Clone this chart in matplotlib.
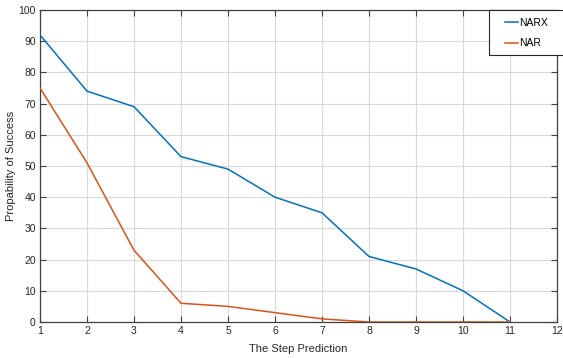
import matplotlib
matplotlib.use("Agg")
import matplotlib.pyplot as plt
from matplotlib.patches import Rectangle

steps = [1, 2, 3, 4, 5, 6, 7, 8, 9, 10, 11]
narx = [92, 74, 69, 53, 49, 40, 35, 21, 17, 10, 0]
nar = [75, 51, 23, 6, 5, 3, 1, 0, 0, 0, 0]
xticks = list(range(1, 13))
yticks = list(range(0, 101, 10))

W, H = 563, 358
plt.rcParams['font.family'] = ['Liberation Sans', 'DejaVu Sans']
fig = plt.figure(figsize=(W/100, H/100), dpi=100)
ax = fig.add_axes([40/W, 1 - 322/H, (557-40)/W, (322-10)/H])

ax.plot(steps, narx, color='#0072BD', lw=1.1, label='NARX', zorder=3)
ax.plot(steps, nar, color='#D95319', lw=1.1, label='NAR', zorder=3)

ax.set_xlim(1, 12)
ax.set_ylim(0, 100)
ax.set_xticks(xticks)
ax.set_yticks(yticks)
ax.grid(True, color='#d9d9d9', lw=0.8)
ax.set_axisbelow(True)
ax.tick_params(direction='in', top=True, right=True, length=4, width=0.8,
               colors='#404040', labelsize=7.5, labelcolor='#262626', pad=3)
for s in ax.spines.values():
    s.set_color('#404040')
    s.set_linewidth(0.9)

ax.set_xlabel('The Step Prediction', fontsize=8, color='#262626', labelpad=6)
ax.set_ylabel('Propability of Success', fontsize=8, color='#262626', labelpad=2)

# legend frame (extends past the figure's right edge, as in the reference)
frame = Rectangle((489/W, 1 - 55/H), (600-489)/W, (55-10)/H, transform=fig.transFigure,
                  facecolor='white', edgecolor='#262626', lw=0.8, zorder=5, clip_on=False)
ax.add_patch(frame)
leg = ax.legend(loc='upper left', bbox_to_anchor=(505/W, 1 - 18/H),
                bbox_transform=fig.transFigure, fontsize=7.5, frameon=False,
                handlelength=1.2, handletextpad=0.15, borderpad=0, labelspacing=1.0,
                borderaxespad=0)
leg.set_zorder(6)

fig.savefig('out.png', dpi=100)
